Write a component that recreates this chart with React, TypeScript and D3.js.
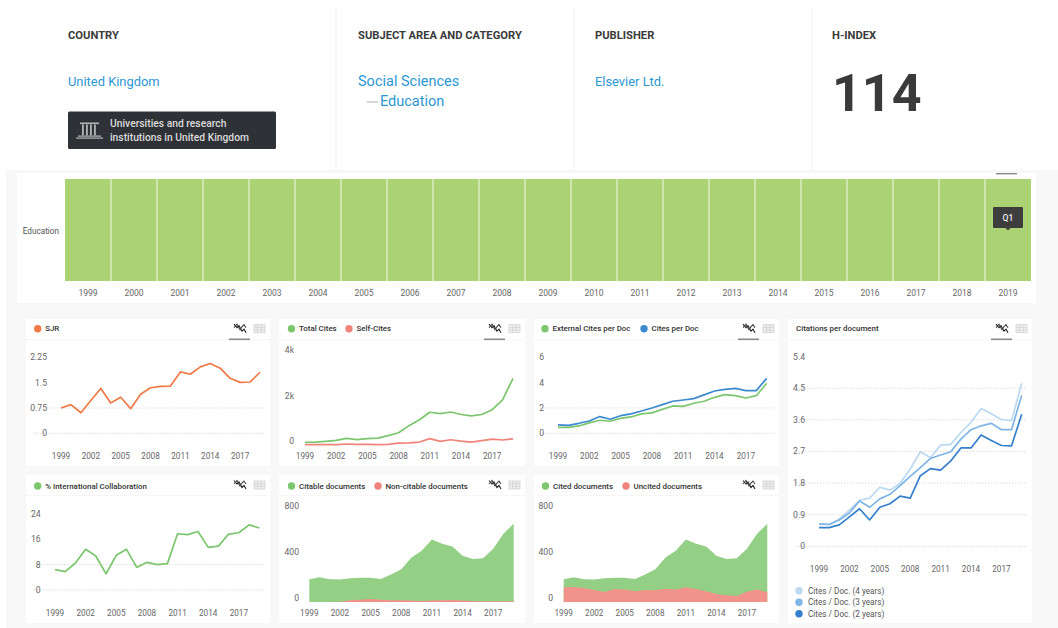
import React from "react";
import * as d3 from "d3";

const years = d3.range(1999, 2020);
const yearTicks = [1999, 2002, 2005, 2008, 2011, 2014, 2017];

const sjr = [0.75, 0.85, 0.61, 0.97, 1.33, 0.9, 1.07, 0.73, 1.16, 1.35, 1.39, 1.4, 1.82, 1.75, 1.97, 2.07, 1.93, 1.63, 1.51, 1.52, 1.81];
const totalCites = [120, 130, 160, 200, 290, 240, 280, 300, 410, 540, 850, 1110, 1440, 1380, 1450, 1340, 1280, 1340, 1550, 1980, 2930];
const selfCites = [15, 15, 20, 20, 45, 25, 25, 20, 25, 80, 95, 130, 280, 160, 230, 170, 130, 190, 260, 220, 270];
const externalPerDoc = [0.47, 0.47, 0.58, 0.82, 1.03, 0.95, 1.18, 1.29, 1.53, 1.61, 1.89, 2.16, 2.13, 2.37, 2.53, 2.84, 3.05, 2.97, 2.79, 2.97, 3.95];
const citesPerDoc = [0.66, 0.63, 0.79, 0.97, 1.32, 1.11, 1.39, 1.53, 1.76, 2.0, 2.26, 2.53, 2.63, 2.74, 3.03, 3.34, 3.47, 3.55, 3.37, 3.37, 4.34];
const cites4y = [0.64, 0.62, 0.78, 1.03, 1.31, 1.37, 1.68, 1.6, 1.79, 2.2, 2.69, 2.52, 2.88, 2.9, 3.24, 3.53, 3.92, 3.77, 3.61, 3.58, 4.64];
const cites3y = [0.64, 0.62, 0.75, 0.95, 1.29, 1.11, 1.35, 1.48, 1.73, 1.99, 2.24, 2.5, 2.6, 2.69, 3.05, 3.32, 3.43, 3.5, 3.32, 3.32, 4.3];
const cites2y = [0.53, 0.53, 0.61, 0.84, 1.07, 0.75, 1.11, 1.21, 1.43, 1.37, 2.01, 2.21, 2.17, 2.43, 2.8, 2.8, 3.17, 3.01, 2.87, 2.86, 3.76];
const intlCollab = [6.4, 5.8, 8.5, 12.8, 10.7, 5.1, 10.9, 12.8, 7.1, 8.7, 8.0, 8.3, 17.7, 17.4, 18.4, 13.4, 13.8, 17.6, 18.0, 20.5, 19.5];
const citableDocs = [198, 215, 198, 195, 207, 210, 210, 201, 239, 285, 387, 445, 544, 506, 483, 402, 373, 381, 463, 594, 681];
const nonCitableDocs = [0, 0, 0, 3, 15, 20, 26, 20, 15, 15, 12, 9, 12, 15, 17, 12, 9, 6, 6, 6, 6];
const uncitedDocs = [128, 131, 122, 105, 87, 113, 108, 93, 105, 102, 116, 108, 128, 113, 93, 70, 58, 52, 90, 108, 84];

const FONT = "Roboto, sans-serif";
const GREEN = "#7cc66e";
const RED = "#f0837a";

type Series = { name: string; values: number[]; color: string; fill?: string };

type ChartCfg = {
  card: [number, number, number, number];
  xRange: [number, number];
  yRange: [number, number];
  yMax: number;
  ticks: { value: number; label: string }[];
  grid: number[];
  labelX: number;
  labelDy: number;
  xLabelY: number;
  title: { name: string; color?: string; x: number }[];
  series: Series[];
  area?: boolean;
  underline?: boolean;
};

const charts: ChartCfg[] = [
  {
    card: [26, 319, 244, 147],
    xRange: [61, 260],
    yRange: [433.3, 357.4],
    yMax: 2.25,
    ticks: [
      { value: 0, label: "0" },
      { value: 0.75, label: "0.75" },
      { value: 1.5, label: "1.5" },
      { value: 2.25, label: "2.25" },
    ],
    grid: [0, 0.75],
    labelX: 47,
    labelDy: 0,
    xLabelY: 456,
    title: [{ name: "SJR", color: "#ef7a45", x: 37.7 }],
    series: [{ name: "SJR", values: sjr, color: "#ef7a45" }],
    underline: true,
  },
  {
    card: [279, 319, 246, 147],
    xRange: [305, 513],
    yRange: [445, 354],
    yMax: 4000,
    ticks: [
      { value: 0, label: "0" },
      { value: 2000, label: "2k" },
      { value: 4000, label: "4k" },
    ],
    grid: [],
    labelX: 294,
    labelDy: -4,
    xLabelY: 456,
    title: [
      { name: "Total Cites", color: GREEN, x: 291.5 },
      { name: "Self-Cites", color: RED, x: 349 },
    ],
    series: [
      { name: "Total Cites", values: totalCites, color: GREEN },
      { name: "Self-Cites", values: selfCites, color: RED },
    ],
    underline: true,
  },
  {
    card: [534, 319, 245, 147],
    xRange: [558, 766.7],
    yRange: [433.3, 357.3],
    yMax: 6,
    ticks: [
      { value: 0, label: "0" },
      { value: 2, label: "2" },
      { value: 4, label: "4" },
      { value: 6, label: "6" },
    ],
    grid: [0, 2],
    labelX: 544,
    labelDy: 0,
    xLabelY: 456,
    title: [
      { name: "External Cites per Doc", color: GREEN, x: 545 },
      { name: "Cites per Doc", color: "#3d8ad0", x: 644 },
    ],
    series: [
      { name: "External Cites per Doc", values: externalPerDoc, color: GREEN },
      { name: "Cites per Doc", values: citesPerDoc, color: "#3d8ad0" },
    ],
    underline: true,
  },
  {
    card: [788, 319, 244, 304],
    xRange: [819, 1021.7],
    yRange: [546.3, 356.6],
    yMax: 5.4,
    ticks: [0, 0.9, 1.8, 2.7, 3.6, 4.5, 5.4].map((v) => ({ value: v, label: String(v) })),
    grid: [0, 0.9, 1.8, 2.7, 3.6, 4.5],
    labelX: 805,
    labelDy: 0,
    xLabelY: 569,
    title: [{ name: "Citations per document", x: 796 }],
    series: [
      { name: "Cites / Doc. (4 years)", values: cites4y, color: "#bcd9f2" },
      { name: "Cites / Doc. (3 years)", values: cites3y, color: "#7fb5e6" },
      { name: "Cites / Doc. (2 years)", values: cites2y, color: "#3580cc" },
    ],
    underline: true,
  },
  {
    card: [26, 475, 244, 148],
    xRange: [55, 259.3],
    yRange: [590, 513.7],
    yMax: 24,
    ticks: [
      { value: 0, label: "0" },
      { value: 8, label: "8" },
      { value: 16, label: "16" },
      { value: 24, label: "24" },
    ],
    grid: [0, 8],
    labelX: 40.7,
    labelDy: 0,
    xLabelY: 612.7,
    title: [{ name: "% International Collaboration", color: GREEN, x: 37.7 }],
    series: [{ name: "% International Collaboration", values: intlCollab, color: GREEN }],
  },
  {
    card: [279, 475, 246, 148],
    xRange: [309.3, 513.7],
    yRange: [602, 510],
    yMax: 800,
    ticks: [
      { value: 0, label: "0" },
      { value: 400, label: "400" },
      { value: 800, label: "800" },
    ],
    grid: [],
    labelX: 299,
    labelDy: -4,
    xLabelY: 612.7,
    title: [
      { name: "Citable documents", color: GREEN, x: 291.5 },
      { name: "Non-citable documents", color: RED, x: 378 },
    ],
    series: [
      { name: "Citable documents", values: citableDocs, color: GREEN, fill: "#93d085" },
      { name: "Non-citable documents", values: nonCitableDocs, color: RED, fill: "#f1938b" },
    ],
    area: true,
  },
  {
    card: [534, 475, 245, 148],
    xRange: [563.7, 767.3],
    yRange: [602, 510],
    yMax: 800,
    ticks: [
      { value: 0, label: "0" },
      { value: 400, label: "400" },
      { value: 800, label: "800" },
    ],
    grid: [],
    labelX: 553,
    labelDy: -4,
    xLabelY: 612.7,
    title: [
      { name: "Cited documents", color: GREEN, x: 545.5 },
      { name: "Uncited documents", color: RED, x: 626 },
    ],
    series: [
      { name: "Cited documents", values: citableDocs, color: GREEN, fill: "#93d085" },
      { name: "Uncited documents", values: uncitedDocs, color: RED, fill: "#f1938b" },
    ],
    area: true,
  },
];

function TrendIcon({ x, y }: { x: number; y: number }) {
  return (
    <g transform={`translate(${x},${y})`} fill="none" stroke="#222" strokeWidth={1.1}>
      <path d="M-6,-4.5 L-3,-1 L-1,-3 L2,2.5 L4,0.5 L6,4" />
      <path d="M-6,-1 L-3,-4.5 L0,1 L2,-2 L4,-4 L6,-1" stroke="#444" />
    </g>
  );
}

function GridIcon({ x, y }: { x: number; y: number }) {
  return (
    <g transform={`translate(${x},${y})`} fill="none" stroke="#d2d2d2" strokeWidth={0.8}>
      <rect x={-5.5} y={-4} width={11} height={8} fill="#f0f0f0" />
      <path d="M-5.5,-1.3 H5.5 M-5.5,1.3 H5.5 M-2,-4 V4 M1.6,-4 V4" />
    </g>
  );
}

function Chart({ cfg }: { cfg: ChartCfg }) {
  const [cx, cy, cw, ch] = cfg.card;
  const x = d3.scaleLinear().domain([1999, 2019]).range(cfg.xRange);
  const y = d3.scaleLinear().domain([0, cfg.yMax]).range(cfg.yRange);
  const line = d3
    .line<number>()
    .x((_, i) => x(years[i]))
    .y((d) => y(d));
  const area = d3
    .area<number>()
    .x((_, i) => x(years[i]))
    .y0(y(0))
    .y1((d) => y(d));
  // second row has its header a little lower in the card
  const headerY = cy + (cfg.underline ? 9.7 : 11);
  const right = cx + cw;
  return (
    <g fontFamily={FONT}>
      <rect x={cx} y={cy} width={cw} height={ch} fill="#fff" />
      <line x1={cx} x2={right} y1={cy + 20.5} y2={cy + 20.5} stroke="#f6f6f6" />
      {cfg.title.map((t) => (
        <g key={t.name}>
          {t.color && <circle cx={t.x} cy={headerY} r={3.7} fill={t.color} />}
          <text x={t.color ? t.x + 7.5 : t.x} y={headerY} dy="0.35em" fontSize={7.9} fill="#333" fontWeight={500}>
            {t.name}
          </text>
        </g>
      ))}
      <TrendIcon x={right - 30} y={cfg.underline ? headerY : headerY - 1} />
      <GridIcon x={right - 10.5} y={cfg.underline ? headerY : headerY - 1} />
      {cfg.underline && <rect x={right - 41} y={cy + 19.5} width={21} height={1.6} fill="#8a8a8a" />}
      {cfg.grid.map((g) => (
        <line
          key={g}
          x1={cx + 8}
          x2={right - 5}
          y1={y(g)}
          y2={y(g)}
          stroke="#d4d4d4"
          strokeWidth={0.8}
          strokeDasharray="1.5 1.5"
        />
      ))}
      {cfg.ticks.map((t) => (
        <text
          key={t.label}
          x={cfg.labelX}
          y={y(t.value) + cfg.labelDy}
          dy="0.35em"
          textAnchor="end"
          fontSize={8.6}
          fill="#666"
        >
          {t.label}
        </text>
      ))}
      {yearTicks.map((yr) => (
        <text key={yr} x={x(yr)} y={cfg.xLabelY} dy="0.35em" textAnchor="middle" fontSize={8.2} fill="#666">
          {yr}
        </text>
      ))}
      {cfg.series.map((s) =>
        cfg.area ? (
          <path key={s.name} d={area(s.values) ?? ""} fill={s.fill} />
        ) : (
          <path
            key={s.name}
            d={line(s.values) ?? ""}
            fill="none"
            stroke={s.color}
            strokeWidth={1.7}
            strokeLinejoin="round"
          />
        )
      )}
    </g>
  );
}

const citationLegend = charts[3].series;

export default function App() {
  const heatX = d3.scaleBand<number>().domain(years).range([65, 1031]).paddingInner(0);
  const legendY = d3.scalePoint<string>().domain(citationLegend.map((s) => s.name)).range([590.7, 613.7]);
  const tipX = heatX(2019)! + heatX.bandwidth() / 2;
  return (
    <svg
      width={1058}
      height={628}
      style={{ position: "absolute", left: 0, top: 0, display: "block" }}
      fontFamily={FONT}
    >
      <rect width={1058} height={628} fill="#fff" />
      <rect x={6} y={170} width={1052} height={458} fill="#f8f8f8" />

      {/* header strip */}
      {[336, 574, 812].map((sx) => (
        <line key={sx} x1={sx} x2={sx} y1={8} y2={170} stroke="#f6f6f6" strokeWidth={1.5} />
      ))}
      <g fontSize={11.2} fontWeight={700} fill="#3a3a3a">
        <text x={68} y={38.5}>COUNTRY</text>
        <text x={358} y={38.5}>SUBJECT AREA AND CATEGORY</text>
        <text x={595} y={38.5}>PUBLISHER</text>
        <text x={832} y={38.5}>H-INDEX</text>
      </g>
      <g fill="#2b97d3">
        <text x={68} y={86} fontSize={12.9}>United Kingdom</text>
        <text x={358} y={86} fontSize={14.5}>Social Sciences</text>
        <text x={380} y={106} fontSize={14.5}>Education</text>
        <text x={595} y={86} fontSize={12.9}>Elsevier Ltd.</text>
      </g>
      <line x1={367} x2={378} y1={102} y2={102} stroke="#bbb" strokeWidth={1.2} />
      <text x={832} y={111} fontSize={52} fontWeight={700} fill="#3a3a3a">114</text>

      <rect x={68} y={111.5} width={208} height={37.5} rx={1.5} fill="#2e3136" />
      <g fill="#b5b5b5">
        <rect x={80} y={122.5} width={19} height={1.6} />
        <rect x={82} y={124.5} width={1.8} height={11} />
        <rect x={86} y={124.5} width={1.8} height={11} />
        <rect x={90} y={124.5} width={1.8} height={11} />
        <rect x={94} y={124.5} width={1.8} height={11} />
        <rect x={78} y={135.5} width={23} height={1.2} />
        <rect x={76} y={137.5} width={27} height={1.2} />
      </g>
      <g fontSize={10.3} fontWeight={500} fill="#dcdcdc">
        <text x={110} y={127}>Universities and research</text>
        <text x={110} y={141}>institutions in United Kingdom</text>
      </g>

      {/* quartile heatmap */}
      <rect x={17} y={173} width={1019} height={130} fill="#fff" />
      <text x={59} y={231} dy="0.35em" textAnchor="end" fontSize={8.2} fill="#555">Education</text>
      {years.map((yr) => (
        <g key={yr}>
          <rect x={heatX(yr)!} y={179} width={heatX.bandwidth()} height={102} fill="#acd373" />
          {yr > 1999 && <rect x={heatX(yr)! - 0.75} y={179} width={1.5} height={102} fill="#dcebc3" />}
          <text x={heatX(yr)! + heatX.bandwidth() / 2} y={293} dy="0.35em" textAnchor="middle" fontSize={8.5} fill="#666">
            {yr}
          </text>
        </g>
      ))}
      <rect x={tipX - 12} y={173} width={21} height={1.4} fill="#888" />
      <rect x={tipX - 15} y={207} width={30} height={21} rx={1} fill="#3d3d3d" />
      <path d={`M${tipX - 2.5},228 L${tipX},230.5 L${tipX + 2.5},228 Z`} fill="#3d3d3d" />
      <text x={tipX} y={217.5} dy="0.35em" textAnchor="middle" fontSize={8.6} fontWeight={500} fill="#eee">Q1</text>

      {charts.map((cfg) => (
        <Chart key={cfg.title[0].name} cfg={cfg} />
      ))}

      {citationLegend.map((s) => (
        <g key={s.name}>
          <circle cx={799} cy={legendY(s.name)} r={3.7} fill={s.color} />
          <text x={808} y={legendY(s.name)} dy="0.35em" fontSize={8.2} fill="#555">{s.name}</text>
        </g>
      ))}
    </svg>
  );
}
